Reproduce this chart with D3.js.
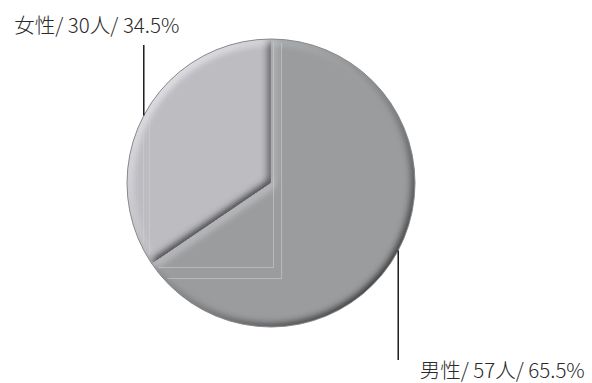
<!DOCTYPE html>
<html>
<head>
<meta charset="utf-8">
<script src="https://cdn.jsdelivr.net/npm/d3@7"></script>
<style>
  body { margin: 0; background: #fff; }
  svg { display: block; }
  .label { font-family: "Noto Sans CJK JP", "Open Sans", sans-serif; font-size: 20.5px; font-weight: 300; fill: #2a2a2a; }
  .leader { stroke: #1a1a1a; stroke-width: 1.5; fill: none; }
  .ghost { fill: none; stroke: #cfcfd1; stroke-width: 1; opacity: 0.6; }
</style>
</head>
<body>
<div id="chart-area"></div>
<script>
// data
const categories = ["男性", "女性"];
const counts = [57, 30];
const percents = ["65.5%", "34.5%"];
const colors = ["#9a9c9e", "#bdbcc1"];

const chartSize = { width: 592, height: 383 };
const center = { x: 271, y: 183 };
const radius = 144;
// leader line end (y) and label placement relative to the leader
const labelPos = [
  { lineEnd: 360, dx: 104, y: 378 },
  { lineEnd: 45, dx: -47, y: 33 }
];

const svg = d3.select("#chart-area")
  .append("svg")
  .attr("width", chartSize.width)
  .attr("height", chartSize.height);

const defs = svg.append("defs");
const f = defs.append("filter")
  .attr("id", "bevel")
  .attr("x", "-10%").attr("y", "-10%")
  .attr("width", "120%").attr("height", "120%");
f.append("feGaussianBlur")
  .attr("in", "SourceAlpha")
  .attr("stdDeviation", 4)
  .attr("result", "blur");
f.append("feDiffuseLighting")
  .attr("in", "blur")
  .attr("surfaceScale", 4)
  .attr("diffuseConstant", 1)
  .attr("lighting-color", "#fff")
  .attr("result", "light")
  .append("feDistantLight")
  .attr("azimuth", 225)
  .attr("elevation", 45);
f.append("feComposite")
  .attr("in", "SourceGraphic")
  .attr("in2", "light")
  .attr("operator", "arithmetic")
  .attr("k1", 1.414).attr("k2", 0).attr("k3", 0).attr("k4", 0)
  .attr("result", "lit");
f.append("feComposite")
  .attr("in", "lit")
  .attr("in2", "SourceAlpha")
  .attr("operator", "in");

defs.append("clipPath")
  .attr("id", "pie-clip")
  .append("circle")
  .attr("r", radius - 3);

const pie = d3.pie().sort(null).value(d => d);
const arcs = pie(counts);
const arc = d3.arc().innerRadius(0).outerRadius(radius);

const g = svg.append("g")
  .attr("transform", `translate(${center.x},${center.y})`);

g.selectAll("path.slice")
  .data(arcs)
  .join("path")
  .attr("class", "slice")
  .attr("d", arc)
  .attr("fill", (d, i) => colors[i])
  .attr("filter", "url(#bevel)");

// faint rendering frames seen inside the original pie
const ghosts = g.append("g").attr("clip-path", "url(#pie-clip)");
[[-0.889, 0.014, 0.583], [-0.847, 0.07, 0.66]].forEach(([l, r, b]) => {
  ghosts.append("rect")
    .attr("class", "ghost")
    .attr("x", l * radius + 0.5)
    .attr("y", -radius)
    .attr("width", (r - l) * radius)
    .attr("height", (1 + b) * radius + 0.5);
});

g.append("circle")
  .attr("r", radius)
  .attr("fill", "none")
  .attr("stroke", "#8a8a8c")
  .attr("stroke-width", 1);

// leader lines + labels
arcs.forEach((d, i) => {
  const mid = (d.startAngle + d.endAngle) / 2;
  const px = center.x + radius * Math.sin(mid);
  const py = center.y - radius * Math.cos(mid);
  svg.append("line")
    .attr("class", "leader")
    .attr("x1", px).attr("y1", py)
    .attr("x2", px).attr("y2", labelPos[i].lineEnd);
  svg.append("text")
    .attr("class", "label")
    .attr("x", px + labelPos[i].dx)
    .attr("y", labelPos[i].y)
    .attr("text-anchor", "middle")
    .text(`${categories[i]}/ ${counts[i]}人/ ${percents[i]}`);
});
</script>
</body>
</html>
